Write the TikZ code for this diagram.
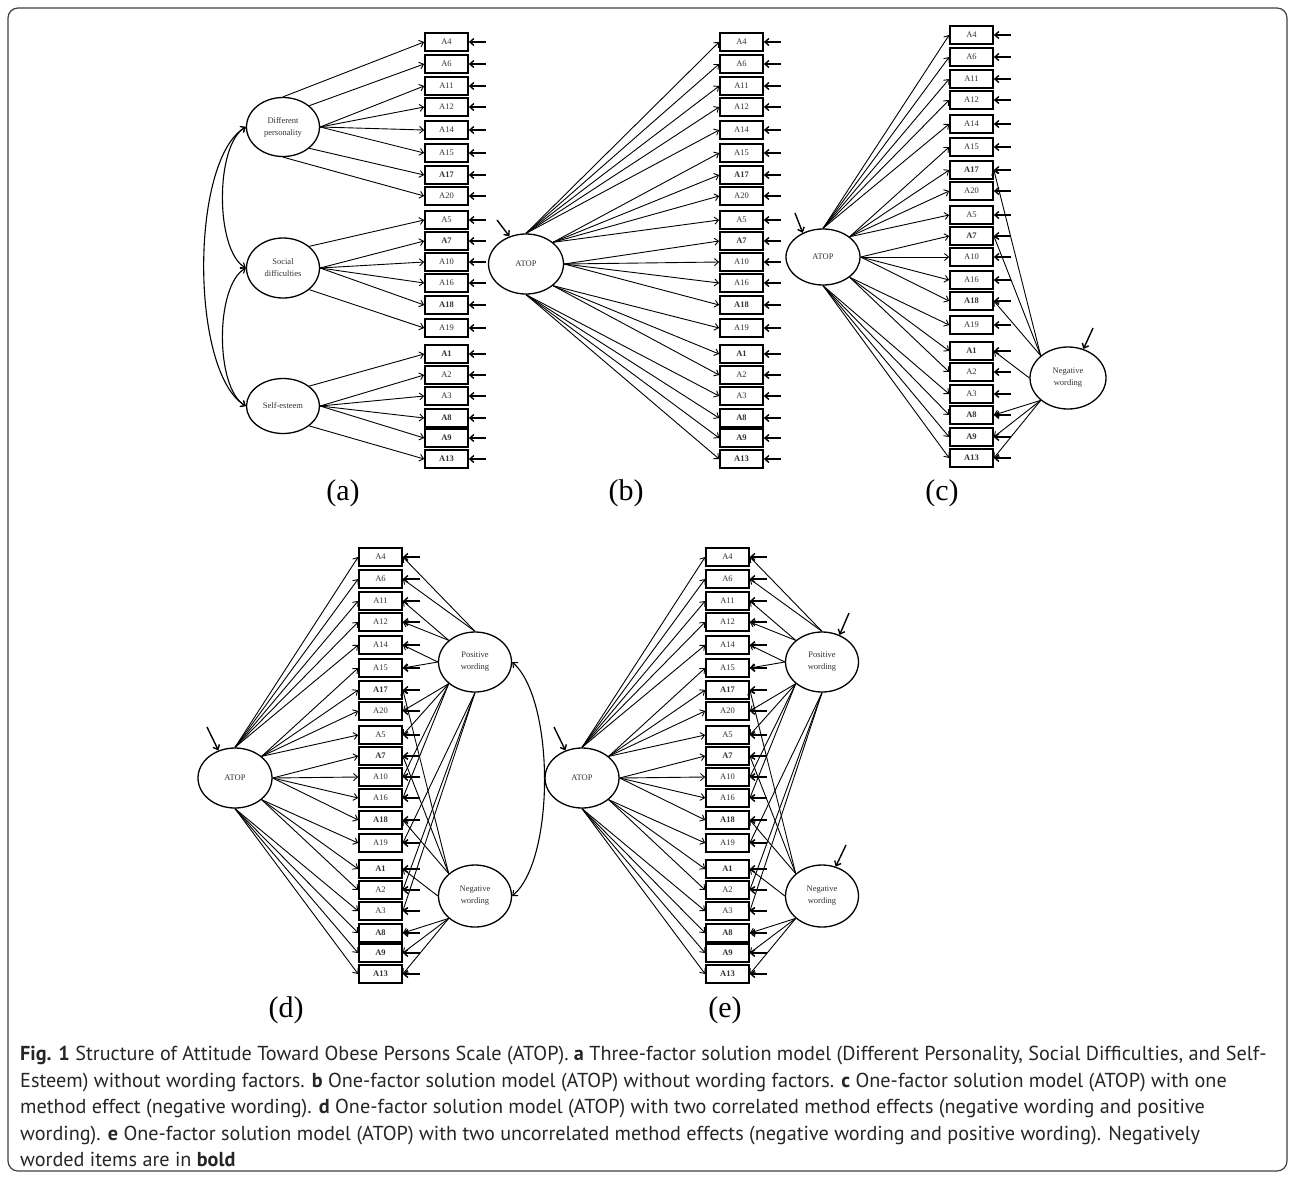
\documentclass[tikz,border=0pt]{standalone}
\usepackage{fontspec}
\setmainfont{Liberation Serif}
\newfontfamily\capfont{PT Sans}
\usetikzlibrary{arrows.meta,shapes.geometric}

% observed items: number / vertical position / weight (negatively worded items in bold)
\def\itemsA{4/42/\mdseries,6/64/\mdseries,11/86/\mdseries,12/107/\mdseries,%
14/130/\mdseries,15/153/\mdseries,17/175/\bfseries,20/196/\mdseries,%
5/220/\mdseries,7/241/\bfseries,10/262/\mdseries,16/283/\mdseries,%
18/305/\bfseries,19/328/\mdseries,1/354/\bfseries,2/375/\mdseries,%
3/396/\mdseries,8/418/\bfseries,9/438/\bfseries,13/459/\bfseries}
\def\itemsC{4/35/\mdseries,6/57/\mdseries,11/79/\mdseries,12/100/\mdseries,%
14/124/\mdseries,15/147/\mdseries,17/170/\bfseries,20/191/\mdseries,%
5/215/\mdseries,7/236/\bfseries,10/257/\mdseries,16/280/\mdseries,%
18/301/\bfseries,19/325/\mdseries,1/351/\bfseries,2/372/\mdseries,%
3/394/\mdseries,8/415/\bfseries,9/437/\bfseries,13/458/\bfseries}

% one column of item boxes with their error arrows
% #1 prefix, #2 centre x, #3 vertical offset, #4 item list
\newcommand\itemcolumn[4]{%
  \foreach \n/\y/\w in #4 {%
    \node[item] (#1\n) at (#2,\y+#3) {\w A\n};
    \coordinate (#1e\n) at ([xshift=17pt]#1\n.east);
    \draw[err] (#1e\n) -- (#1\n.east);
  }}
% loadings from a latent anchor to the west / east side of items
\newcommand\loadW[3]{\foreach \t in {#3} {\draw[load] (#1) -- (#2\t.west);}}
\newcommand\loadE[3]{\foreach \t in {#3} {\draw[load] (#1) -- (#2\t.east);}}
% general ATOP factor loading on all twenty items
\newcommand\atopload[2]{%
  \loadW{#1.north}{#2}{4,6,11,12,14}%
  \loadW{#1.north east}{#2}{15,17,20,5}%
  \loadW{#1.east}{#2}{7,10,16,18}%
  \loadW{#1.south east}{#2}{19,1,2}%
  \loadW{#1.south}{#2}{3,8,9,13}}
\newcommand\negload[2]{%
  \loadE{#1.north west}{#2}{17,7,18}%
  \loadE{#1.west}{#2}{1}%
  \loadE{#1.south west}{#2}{8,9,13}}
\newcommand\posload[2]{%
  \loadE{#1.north}{#2}{4,6}%
  \loadE{#1.north west}{#2}{11,12}%
  \loadE{#1.west}{#2}{14,15}%
  \loadE{#1.south west}{#2}{20,5,10,16}%
  \loadE{#1.south}{#2}{19,2,3}}

\begin{document}
\begin{tikzpicture}[x=1pt,y=-1pt,
  >={Straight Barb[length=4pt,width=7pt]},
  item/.style={draw,line width=1.7pt,minimum width=43pt,minimum height=18pt,
    inner sep=0pt,text=black!80,font=\fontsize{8.5}{9}\selectfont},
  latent/.style={draw,ellipse,line width=1.3pt,inner sep=0pt,align=center,
    text=black!80,font=\fontsize{8.5}{12}\selectfont},
  load/.style={->,line width=0.9pt},
  err/.style={->,line width=1.4pt},
  cov/.style={<->,line width=1.1pt},
  panel/.style={font=\fontsize{30}{30}\selectfont},
  capline/.style={anchor=base west,inner sep=0pt,text=black!85,
    font=\capfont\fontsize{20.2}{22}\selectfont}]
\useasboundingbox (0,0) rectangle (1295,1178);
\fill[white] (0,0) rectangle (1295,1178);
\draw[line width=1.2pt,black!75,rounded corners=10pt] (8,8) rectangle (1287,1171);

% ---------------- (a) three correlated factors
\itemcolumn{a}{446.5}{0}{\itemsA}
\node[latent,minimum width=73pt,minimum height=59pt] (DP) at (283,127) {Different\\personality};
\node[latent,minimum width=73pt,minimum height=60pt] (SD) at (283,268) {Social\\difficulties};
\node[latent,minimum width=73pt,minimum height=55pt] (SE) at (283,406) {Self-esteem};
\loadW{DP.north}{a}{4}
\loadW{DP.north east}{a}{6}
\loadW{DP.east}{a}{11,12,14,15}
\loadW{DP.south east}{a}{17}
\loadW{DP.south}{a}{20}
\loadW{SD.north east}{a}{5}
\loadW{SD.east}{a}{7,10,16,18}
\loadW{SD.south east}{a}{19}
\loadW{SE.north east}{a}{1}
\loadW{SE.east}{a}{2,3,8,9}
\loadW{SE.south east}{a}{13}
\draw[cov] (DP.west) .. controls (215,145) and (215,250) .. (SD.west);
\draw[cov] (SD.west) .. controls (215,286) and (215,388) .. (SE.west);
\draw[cov] (DP.west) .. controls (190,160) and (190,372) .. (SE.west);
\node[panel] (la) at (343,493) {(a)};

% ---------------- (b) one factor
\itemcolumn{b}{741.5}{0}{\itemsA}
\node[latent,minimum width=75pt,minimum height=60pt] (bF) at (526,264) {ATOP};
\atopload{bF}{b}
\coordinate (bFe) at (497,220);
\draw[err] (bFe) -- (bF.121);
\node[panel] (lb) at (626,493) {(b)};

% ---------------- (c) one factor with negative wording
\itemcolumn{c}{971.5}{0}{\itemsC}
\node[latent,minimum width=74pt,minimum height=56pt] (cF) at (823,257) {ATOP};
\node[latent,minimum width=76pt,minimum height=62pt] (cN) at (1068,378) {Negative\\wording};
\atopload{cF}{c}
\negload{cN}{c}
\coordinate (cFe) at (795,213);
\draw[err] (cFe) -- (cF.130);
\coordinate (cNe) at (1093,328);
\draw[err] (cNe) -- (cN.62);
\node[panel] (lc) at (942,493) {(c)};

% ---------------- (d) two correlated method factors
\itemcolumn{d}{380.5}{515}{\itemsA}
\node[latent,minimum width=74pt,minimum height=60pt] (dF) at (235,778) {ATOP};
\node[latent,minimum width=73pt,minimum height=60pt] (dP) at (475,662) {Positive\\wording};
\node[latent,minimum width=73pt,minimum height=62pt] (dN) at (475,896) {Negative\\wording};
\atopload{dF}{d}
\posload{dP}{d}
\negload{dN}{d}
\coordinate (dFe) at (207,727);
\draw[err] (dFe) -- (dF.121);
\draw[cov] (dP.east) .. controls (555,700) and (555,860) .. (dN.east);
\node[panel] (ld) at (286,1010) {(d)};

% ---------------- (e) two uncorrelated method factors
\itemcolumn{e}{727.5}{515}{\itemsA}
\node[latent,minimum width=74pt,minimum height=60pt] (eF) at (582,778) {ATOP};
\node[latent,minimum width=73pt,minimum height=60pt] (eP) at (822,662) {Positive\\wording};
\node[latent,minimum width=73pt,minimum height=62pt] (eN) at (822,896) {Negative\\wording};
\atopload{eF}{e}
\posload{eP}{e}
\negload{eN}{e}
\coordinate (eFe) at (554,727);
\draw[err] (eFe) -- (eF.121);
\coordinate (ePe) at (849,613);
\draw[err] (ePe) -- (eP.57);
\coordinate (eNe) at (846,845);
\draw[err] (eNe) -- (eN.65);
\node[panel] (le) at (725,1010) {(e)};

% ---------------- caption
\node[capline] (cap1) at (20,1060) {\textbf{Fig. 1} Structure of Attitude Toward Obese Persons Scale (ATOP). \textbf{a} Three-factor solution model (Different Personality, Social Difficulties, and Self-};
\node[capline] (cap2) at (20,1087) {Esteem) without wording factors. \textbf{b} One-factor solution model (ATOP) without wording factors. \textbf{c} One-factor solution model (ATOP) with one};
\node[capline] (cap3) at (20,1113) {method effect (negative wording). \textbf{d} One-factor solution model (ATOP) with two correlated method effects (negative wording and positive};
\node[capline] (cap4) at (20,1140) {wording). \textbf{e} One-factor solution model (ATOP) with two uncorrelated method effects (negative wording and positive wording). Negatively};
\node[capline] (cap5) at (20,1166) {worded items are in \textbf{bold}};
\end{tikzpicture}
\end{document}
